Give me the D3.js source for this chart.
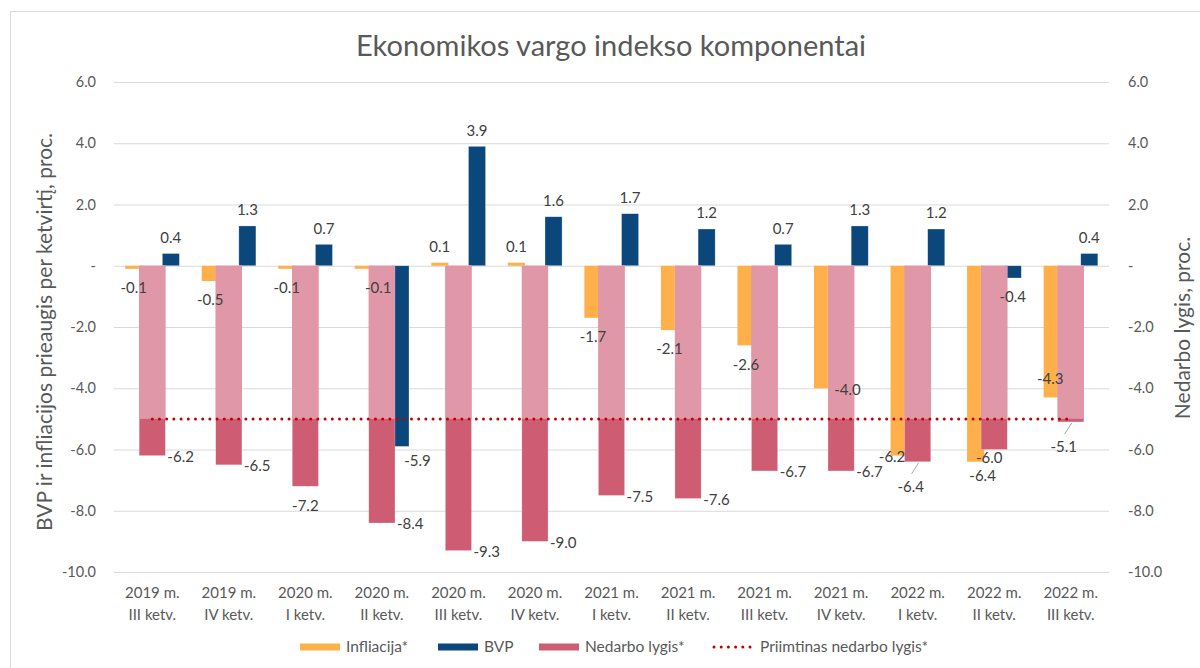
<!DOCTYPE html>
<html>
<head>
<meta charset="utf-8">
<script src="https://cdn.jsdelivr.net/npm/d3@7"></script>
<style>
  body { margin: 0; background: #fff; }
  text { font-family: Lato, "Open Sans", sans-serif; }
</style>
</head>
<body>
<script>
'use strict';

// quarters on the category axis (two lines each)
const quarters = [
  ["2019 m.", "III ketv."], ["2019 m.", "IV ketv."],
  ["2020 m.", "I ketv."], ["2020 m.", "II ketv."], ["2020 m.", "III ketv."], ["2020 m.", "IV ketv."],
  ["2021 m.", "I ketv."], ["2021 m.", "II ketv."], ["2021 m.", "III ketv."], ["2021 m.", "IV ketv."],
  ["2022 m.", "I ketv."], ["2022 m.", "II ketv."], ["2022 m.", "III ketv."]
];

// series values, as plotted (inflation and unemployment are shown negative)
const inflation    = [-0.1, -0.5, -0.1, -0.1, 0.1, 0.1, -1.7, -2.1, -2.6, -4.0, -6.2, -6.4, -4.3];
const gdp          = [0.4, 1.3, 0.7, -5.9, 3.9, 1.6, 1.7, 1.2, 0.7, 1.3, 1.2, -0.4, 0.4];
const unemployment = [-6.2, -6.5, -7.2, -8.4, -9.3, -9.0, -7.5, -7.6, -6.7, -6.7, -6.4, -6.0, -5.1];
const acceptableUnemployment = -5;

const yTicks = [6, 4, 2, 0, -2, -4, -6, -8, -10];

// where each data label sits next to its bar
const inflationLabelPos    = ["below", "below", "below", "belowRight", "above", "above", "below", "below", "below", "right", "end", "belowSide", "inside"];
const gdpLabelPos          = ["above", "above", "above", "belowFar", "above", "above", "above", "above", "above", "above", "above", "below", "above"];
const unemploymentLabelPos = ["side", "side", "below", "side", "side", "side", "side", "side", "side", "side", "leader", "near", "leader"];

const colors = {
  infl: "#FFB04B",
  gdp: "#0B477A",
  unempLight: "#E098A8",
  unemp: "#CE5C72",
  line: "#C00000",
  grid: "#D9D9D9",
  text: "#595959",
  label: "#404040"
};

// label offsets relative to (bar centre, bar end)
const labelShift = {
  below:      { dx: 0,  dy: 19 },
  above:      { dx: 0,  dy: -16 },
  belowRight: { dx: 15, dy: 19 },
  belowFar:   { dx: 17, dy: 14 },
  belowSide:  { dx: 7,  dy: 14 },
  right:      { dx: 25, dy: 1 },
  end:        { dx: -7, dy: 1 },
  inside:     { dx: -2, dy: -19 },
  near:       { dx: -5, dy: 8 },
  leader:     { dx: -7, dy: 25 }
};

// plain hyphen for negatives, like the original
const fmt = (d) => d3.format(".1f")(d).replace("\u2212", "-");
const tickFmt = (d) => d === 0 ? "-" : fmt(d);

const svg = d3.select("body").append("svg")
  .attr("width", 1200)
  .attr("height", 668);

// chart frame
svg.append("rect")
  .attr("x", 10.5).attr("y", 11.5)
  .attr("width", 1205).attr("height", 680)
  .attr("fill", "none")
  .attr("stroke", colors.grid);

const x = d3.scaleBand().domain(d3.range(quarters.length)).range([114, 1109]);
const y = d3.scaleLinear().domain([-10, 6]).range([572, 82]);
const yRight = d3.scaleLinear().domain([-10, 6]).range([572, 82]);

// inflation + gdp share the primary cluster, unemployment sits on the secondary axis
const xPrimary = d3.scaleBand().domain(["infl", "gdp"]).range([0, x.bandwidth()])
  .paddingInner(0.54).paddingOuter(0.3);
const xSecondary = d3.scaleBand().domain(["unemp"]).range([0, x.bandwidth()]).padding(0.49);

// gridlines
svg.append("g")
  .selectAll("line")
  .data(yTicks)
  .enter()
  .append("line")
  .attr("x1", 114).attr("x2", 1109)
  .attr("y1", (d) => y(d) + 0.5).attr("y2", (d) => y(d) + 0.5)
  .attr("stroke", colors.grid)
  .attr("stroke-width", 1.2);

// axes
const leftAxis = svg.append("g")
  .attr("transform", "translate(114,0)")
  .call(d3.axisLeft(y).tickValues(yTicks).tickFormat(tickFmt).tickSize(0).tickPadding(18));
const rightAxis = svg.append("g")
  .attr("transform", "translate(1109,0)")
  .call(d3.axisRight(yRight).tickValues(yTicks).tickFormat(tickFmt).tickSize(0).tickPadding(19));
[leftAxis, rightAxis].forEach((g) => {
  g.select(".domain").remove();
  g.selectAll("text")
    .style("font-family", "Lato, sans-serif")
    .style("font-size", "14.5px")
    .attr("fill", colors.text);
});

const xAxis = svg.append("g")
  .attr("transform", "translate(0,572)")
  .call(d3.axisBottom(x).tickSize(0).tickFormat(""));
xAxis.select(".domain").remove();
xAxis.selectAll(".tick text").remove();
xAxis.selectAll(".tick")
  .append("text")
  .attr("text-anchor", "middle")
  .attr("fill", colors.text)
  .style("font-family", "Lato, sans-serif")
  .style("font-size", "15px")
  .selectAll("tspan")
  .data((i) => quarters[i])
  .enter()
  .append("tspan")
  .attr("x", 0)
  .attr("y", (d, j) => 26 + j * 22)
  .text((d) => d);

// bar helpers
function barTop(v) { return Math.min(y(v), y(0)); }
function barHeight(v) { return Math.abs(y(v) - y(0)); }

// inflation bars
svg.append("g")
  .selectAll("rect")
  .data(inflation)
  .enter()
  .append("rect")
  .attr("x", (d, i) => x(i) + xPrimary("infl"))
  .attr("y", (d) => barTop(d))
  .attr("width", xPrimary.bandwidth())
  .attr("height", (d) => barHeight(d))
  .attr("fill", colors.infl);

// gdp bars
svg.append("g")
  .selectAll("rect")
  .data(gdp)
  .enter()
  .append("rect")
  .attr("x", (d, i) => x(i) + xPrimary("gdp"))
  .attr("y", (d) => barTop(d))
  .attr("width", xPrimary.bandwidth())
  .attr("height", (d) => barHeight(d))
  .attr("fill", colors.gdp)
  .attr("stroke", "#fff")
  .attr("stroke-opacity", 0.5)
  .attr("stroke-width", 0.6);

// unemployment: darker full bar, lighter part down to the acceptable level
const unempG = svg.append("g");
unempG.selectAll("rect.dark")
  .data(unemployment)
  .enter()
  .append("rect")
  .attr("class", "dark")
  .attr("x", (d, i) => x(i) + xSecondary("unemp"))
  .attr("y", yRight(0))
  .attr("width", xSecondary.bandwidth())
  .attr("height", (d) => yRight(d) - yRight(0))
  .attr("fill", colors.unemp)
  .attr("stroke", "#fff")
  .attr("stroke-opacity", 0.4)
  .attr("stroke-width", 0.6);
unempG.selectAll("rect.light")
  .data(unemployment)
  .enter()
  .append("rect")
  .attr("class", "light")
  .attr("x", (d, i) => x(i) + xSecondary("unemp"))
  .attr("y", yRight(0))
  .attr("width", xSecondary.bandwidth())
  .attr("height", (d) => yRight(Math.max(d, acceptableUnemployment)) - yRight(0))
  .attr("fill", colors.unempLight);

// acceptable unemployment line (first to last category centre)
svg.append("line")
  .attr("x1", x(0) + x.bandwidth() / 2)
  .attr("x2", x(quarters.length - 1) + x.bandwidth() / 2)
  .attr("y1", yRight(acceptableUnemployment))
  .attr("y2", yRight(acceptableUnemployment))
  .attr("stroke", colors.line)
  .attr("stroke-width", 3)
  .attr("stroke-linecap", "round")
  .attr("stroke-dasharray", "0 7.2");

// data labels
function addLabels(values, positions, centre, scale, cls) {
  const g = svg.append("g").attr("class", cls);
  values.forEach((v, i) => {
    const pos = positions[i];
    const cx = centre(i);
    const yEnd = scale(v);
    let lx, ly, anchor = "middle";
    if (pos === "side") {
      lx = x(i) + xSecondary("unemp") + xSecondary.bandwidth() + 2;
      ly = yEnd + 1;
      anchor = "start";
    } else {
      const s = labelShift[pos];
      lx = cx + s.dx;
      ly = yEnd + s.dy;
    }
    if (pos === "leader") {
      g.append("line")
        .attr("x1", cx + 1).attr("y1", yEnd + 1)
        .attr("x2", lx + 1).attr("y2", ly - 13)
        .attr("stroke", "#A6A6A6")
        .attr("stroke-width", 1);
    }
    g.append("text")
      .attr("x", lx)
      .attr("y", ly)
      .attr("dy", "0.35em")
      .attr("text-anchor", anchor)
      .attr("fill", colors.label)
      .style("font-size", "15px")
      .text(fmt(v));
  });
}

addLabels(inflation, inflationLabelPos,
  (i) => x(i) + xPrimary("infl") + xPrimary.bandwidth() / 2, y, "lab-infl");
addLabels(gdp, gdpLabelPos,
  (i) => x(i) + xPrimary("gdp") + xPrimary.bandwidth() / 2, y, "lab-gdp");
addLabels(unemployment, unemploymentLabelPos,
  (i) => x(i) + xSecondary("unemp") + xSecondary.bandwidth() / 2, yRight, "lab-unemp");

// title and axis titles
svg.append("text")
  .attr("x", 611)
  .attr("y", 56)
  .attr("text-anchor", "middle")
  .attr("fill", colors.text)
  .style("font-size", "29px")
  .text("Ekonomikos vargo indekso komponentai");

svg.append("text")
  .attr("transform", "translate(52,332)rotate(-90)")
  .attr("text-anchor", "middle")
  .attr("fill", colors.text)
  .style("font-size", "21px")
  .text("BVP ir infliacijos prieaugis per ketvirtį, proc.");

svg.append("text")
  .attr("transform", "translate(1190,328)rotate(-90)")
  .attr("text-anchor", "middle")
  .attr("fill", colors.text)
  .style("font-size", "21px")
  .text("Nedarbo lygis, proc.");

// legend
const legendItems = [
  { name: "Infliacija*", type: "rect", color: colors.infl, x: 300 },
  { name: "BVP", type: "rect", color: colors.gdp, x: 438 },
  { name: "Nedarbo lygis*", type: "rect", color: colors.unemp, x: 539 },
  { name: "Priimtinas nedarbo lygis*", type: "dots", color: colors.line, x: 712 }
];
const legend = svg.append("g").attr("transform", "translate(0,647)");
const item = legend.selectAll("g")
  .data(legendItems)
  .enter()
  .append("g")
  .attr("transform", (d) => `translate(${d.x},0)`);
item.filter((d) => d.type === "rect")
  .append("rect")
  .attr("x", 0).attr("y", -3.5)
  .attr("width", 40).attr("height", 7)
  .attr("fill", (d) => d.color);
item.filter((d) => d.type === "dots")
  .append("line")
  .attr("x1", 2).attr("x2", 38)
  .attr("y1", 0).attr("y2", 0)
  .attr("stroke", (d) => d.color)
  .attr("stroke-width", 3)
  .attr("stroke-linecap", "round")
  .attr("stroke-dasharray", "0 7.2");
item.append("text")
  .attr("x", (d) => d.type === "dots" ? 48 : 46)
  .attr("y", 0)
  .attr("dy", "0.35em")
  .attr("fill", colors.text)
  .style("font-size", "15.5px")
  .text((d) => d.name);
</script>
</body>
</html>
